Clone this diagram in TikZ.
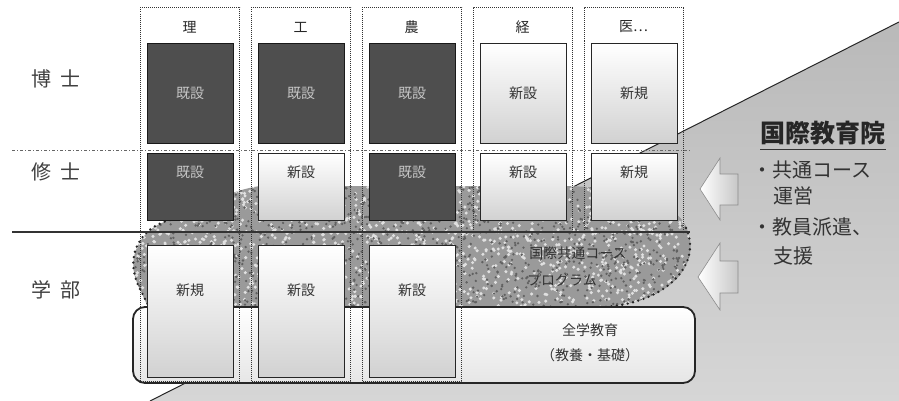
\documentclass[tikz,border=0pt]{standalone}
\usepackage{fontspec}
\newfontfamily\jp{Noto Sans CJK JP}
\definecolor{darkfill}{HTML}{4E4E4E}
\definecolor{darktxt}{HTML}{C4C4C4}
\definecolor{polytop}{HTML}{B9B9B9}
\definecolor{polybot}{HTML}{D6D6D6}
\definecolor{blobgray}{HTML}{9A9A9A}
\definecolor{inktxt}{HTML}{333333}
\tikzset{
  darkbox/.style={draw=black!90, line width=1.4pt, fill=darkfill, minimum width=86pt, inner sep=0pt, anchor=north west},
  lightbox/.style={draw=black!85, line width=1.4pt, top color=white, bottom color=black!18, minimum width=86pt, inner sep=0pt, anchor=north west},
  darkbox text/.style={font=\jp\fontsize{14}{14}\selectfont, text=darktxt, inner sep=0pt},
  lightbox text/.style={font=\jp\fontsize{14}{14}\selectfont, text=inktxt, inner sep=0pt},
  colframe/.style={draw=black!80, densely dotted, line width=1pt, minimum width=99pt, inner sep=0pt, anchor=north west},
  header/.style={font=\jp\fontsize{14}{14}\selectfont, text=black!85, inner sep=0pt},
  rowlabel/.style={font=\jp\fontsize{20}{20}\selectfont, text=black!75, inner sep=0pt},
  dotborder/.style={line width=2.6pt, dash pattern=on 0pt off 5.5pt, line cap=round, black!85},
  blockarrow/.style={draw=black!45, line width=0.6pt, left color=white, right color=black!22},
  sidetext/.style={font=\jp\fontsize{20}{20}\selectfont, text=inktxt, inner sep=0pt, anchor=west},
  blobtext/.style={font=\jp\fontsize{14}{14}\selectfont, text=black!80, inner sep=0pt},
}
\begin{document}
\begin{tikzpicture}[x=1pt,y=-1pt]
\useasboundingbox (0,0) rectangle (899,401);
\fill[white] (0,0) rectangle (899,401);

% big grey background polygon of the right panel
\shade[top color=polytop, bottom color=polybot] (899,22) -- (150,401) -- (899,401) -- cycle;
\coordinate (pa) at (899,22);
\coordinate (pb) at (150,401);
\draw[black!85, line width=1pt] (pa) -- (pb);

% speckled grey blob
\begin{scope}
\clip (148,307) -- (138,285) .. controls (125,258) and (140,228) .. (170,220)
      .. controls (200,212) and (220,192) .. (260,186) -- (560,186)
      .. controls (620,186) and (680,200) .. (688,232)
      .. controls (700,265) and (670,302) .. (605,307) -- cycle;
\fill[blobgray] (120,180) rectangle (710,312);
\pgfmathsetseed{11}
\foreach \k in {1,...,1500} \fill[black!12] ({122+588*rnd},{182+128*rnd}) circle (1.7);
\foreach \k in {1,...,1400} \fill[black!62] ({122+588*rnd},{182+128*rnd}) circle (1.3);
\end{scope}
\draw[dotborder] (170,220) .. controls (140,228) and (125,255) .. (138,285) -- (148,305);
\draw[dotborder] (686,228) .. controls (702,262) and (670,302) .. (605,307);

\node[blobtext] (blobt1) at (578,253) {国際共通コース};
\node[blobtext] (blobt2) at (562,280) {プログラム};

% bottom rounded rectangle
\node[draw=black!85, line width=1.8pt, rounded corners=12pt, top color=white, bottom color=black!10,
      minimum width=562pt, minimum height=76pt, inner sep=0pt] (zen) at (414,345) {};
\node[font=\jp\fontsize{14}{14}\selectfont, text=inktxt, inner sep=0pt] (zent1) at (590,330) {全学教育};
\node[font=\jp\fontsize{14}{14}\selectfont, text=inktxt, inner sep=0pt] (zent2) at (590,355) {（教養・基礎）};

% level separators
\coordinate (l1a) at (12,150); \coordinate (l1b) at (690,150);
\coordinate (l2a) at (12,232); \coordinate (l2b) at (690,232);
\draw[black!60, line width=1pt, dash dot] (l1a) -- (l1b);
\draw[black!80, line width=1.5pt] (l2a) -- (l2b);

% row labels
\node[rowlabel] (r1) at (56,79) {博\hspace{9pt}士};
\node[rowlabel] (r2) at (56,172) {修\hspace{9pt}士};
\node[rowlabel] (r3) at (56,290) {学\hspace{9pt}部};

% column frames and headers
\foreach \i/\h/\hh in {0/理/374,1/工/374,2/農/374,3/経/225,4/医…/225} {
  \node[colframe, minimum height=\hh pt] (col\i) at ({140+111*\i},7) {};
  \node[header] (hd\i) at ({189.5+111*\i},27) {\h};
}

% doctoral boxes
\foreach \i/\s/\t in {0/darkbox/既設,1/darkbox/既設,2/darkbox/既設,3/lightbox/新設,4/lightbox/新規} {
  \node[\s, minimum height=100pt] (d\i) at ({147+111*\i},43) {};
  \node[\s\space text] (dt\i) at ({190+111*\i},93) {\t};
}
% master boxes
\foreach \i/\s/\t in {0/darkbox/既設,1/lightbox/新設,2/darkbox/既設,3/lightbox/新設,4/lightbox/新規} {
  \node[\s, minimum height=67pt] (m\i) at ({147+111*\i},153) {};
  \node[\s\space text] (mt\i) at ({190+111*\i},172) {\t};
}
% bachelor boxes
\foreach \i/\t in {0/新規,1/新設,2/新設} {
  \node[lightbox, minimum height=132pt] (b\i) at ({147+111*\i},245) {};
  \node[lightbox text] (bt\i) at ({190+111*\i},290) {\t};
}

% block arrows
\draw[blockarrow] (700,189) -- (720,158) -- (720,174) -- (738,174) -- (738,205) -- (720,205) -- (720,220) -- cycle;
\draw[blockarrow] (698,277) -- (720,243) -- (720,261) -- (738,261) -- (738,293) -- (720,293) -- (720,310) -- cycle;

% right panel text
\node[font=\jp\bfseries\fontsize{25}{25}\selectfont, text=black!85, inner sep=0pt] (kokusai) at (823,133) {国際教育院};
\draw[black!80, line width=1.2pt] ([yshift=-4pt]kokusai.south west) -- ([yshift=-4pt]kokusai.south east);
\node[sidetext] (s1) at (752,170) {・共通コース};
\node[sidetext] (s2) at (773,196) {運営};
\node[sidetext] (s3) at (752,227) {・教員派遣、};
\node[sidetext] (s4) at (773,256) {支援};
\end{tikzpicture}
\end{document}
